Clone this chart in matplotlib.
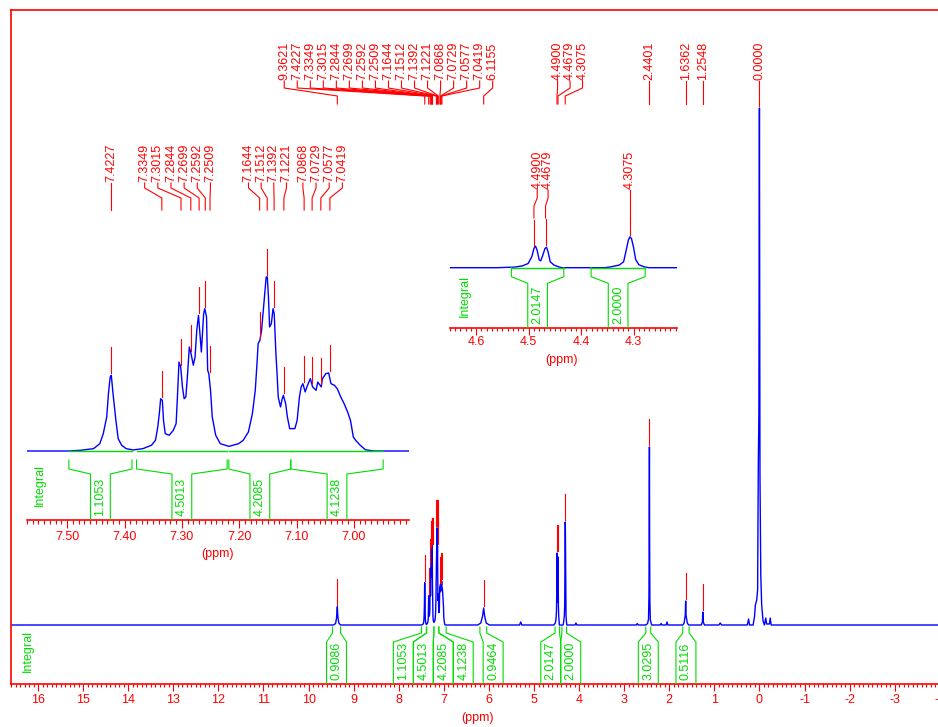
import numpy as np
import matplotlib.pyplot as plt

plt.rcParams['font.family'] = ['Liberation Sans', 'DejaVu Sans']
plt.rcParams['axes.unicode_minus'] = False

# ---- spectrum: ppm and height above baseline ----
# sharp lines over the whole range
lines_ppm = [16.60, 9.45, 9.40, 9.38, 9.362, 9.35, 9.33, 9.29, 7.60, 6.88,
             6.25, 6.18, 6.14, 6.116, 6.095, 6.06, 5.99, 5.32, 5.295, 5.27,
             4.60, 4.09, 4.07, 4.05, 2.73, 2.71, 2.69, 2.52, 2.48, 2.46,
             2.45, 2.445, 2.440, 2.436, 2.43, 2.42, 2.39, 2.20, 2.18, 2.16,
             2.07, 2.05, 2.03, 1.70, 1.67, 1.645, 1.636, 1.628, 1.60, 1.57,
             1.29, 1.265, 1.255, 1.245, 1.22, 0.90, 0.87, 0.84, 0.27, 0.24,
             0.22, 0.14, 0.11, 0.09, 0.06, 0.04, 0.025, 0.012, 0.0, -0.012,
             -0.03, -0.05, -0.08, -0.11, -0.14, -0.16, -0.22, -0.24, -0.26, -4.30]
lines_int = [0, 0, 1.5, 7, 18.3, 8, 2, 0, 0, 0,
             0, 2, 9, 17, 9, 2, 0, 0, 3, 0,
             0, 0, 2, 0, 0, 1.5, 0, 0, 1.5, 6,
             30, 90, 178, 90, 25, 5, 0, 0, 1.5, 0,
             0, 3, 0, 0, 2, 10, 24, 10, 2, 0,
             0, 3, 13, 3, 0, 0, 2, 0, 0, 6,
             0, 0, 8, 20, 25, 35, 160, 210, 517, 150,
             50, 20, 4, 0, 7, 1, 1, 7, 0, 0]

# aromatic multiplets
arom_ppm = [7.566, 7.497, 7.477, 7.454, 7.443, 7.437, 7.431, 7.428, 7.425, 7.423,
            7.420, 7.415, 7.411, 7.405, 7.397, 7.385, 7.368, 7.353, 7.346, 7.342,
            7.339, 7.337, 7.334, 7.332, 7.329, 7.322, 7.315, 7.310, 7.308, 7.305,
            7.302, 7.299, 7.296, 7.293, 7.290, 7.287, 7.284, 7.280, 7.277, 7.274,
            7.271, 7.268, 7.266, 7.262, 7.260, 7.257, 7.255, 7.253, 7.250, 7.247,
            7.241, 7.233, 7.218, 7.201, 7.193, 7.184, 7.177, 7.172, 7.169, 7.167,
            7.164, 7.161, 7.156, 7.153, 7.151, 7.149, 7.147, 7.144, 7.141, 7.139,
            7.136, 7.134, 7.132, 7.128, 7.125, 7.123, 7.119, 7.116, 7.112, 7.103,
            7.099, 7.095, 7.092, 7.089, 7.085, 7.082, 7.076, 7.072, 7.066, 7.063,
            7.057, 7.055, 7.049, 7.044, 7.040, 7.034, 7.029, 7.023, 7.017, 7.011,
            7.006, 7.001, 6.997, 6.989, 6.980, 6.966, 6.899]
arom_int = [0, 0, 0.4, 1.3, 4.1, 9.7, 19.0, 32.0, 41.3, 42.3,
            32.0, 17.1, 6.9, 3.2, 1.3, 0.6, 1.3, 3.2, 6.0, 13.4,
            21.8, 29.2, 28.3, 17.1, 9.7, 8.8, 11.5, 15.3, 28.3, 49.7,
            46.9, 35.8, 29.2, 30.2, 43.2, 58.1, 54.4, 47.9, 52.5, 67.4,
            75.8, 63.7, 55.3, 76.7, 79.5, 74.9, 45.1, 43.2, 33.9, 19.0,
            8.8, 4.1, 2.6, 4.1, 6.0, 10.6, 20.9, 33.9, 48.8, 60.0,
            61.8, 67.4, 86.0, 97.2, 97.2, 86.0, 69.3, 71.1, 79.5, 76.7,
            54.4, 43.2, 30.2, 24.6, 29.2, 31.1, 26.4, 19.0, 12.5, 12.5,
            17.1, 30.2, 35.8, 37.6, 33.0, 35.8, 40.4, 35.8, 33.9, 38.5,
            35.8, 40.4, 43.2, 43.6, 37.6, 36.7, 34.8, 30.2, 26.4, 21.8,
            17.1, 7.8, 6.0, 3.2, 0.7, 0, 0]

# signals near 4.3 - 4.5 ppm
ch2_ppm = [4.56, 4.527, 4.512, 4.501, 4.494, 4.490, 4.487, 4.484, 4.480, 4.477,
           4.473, 4.469, 4.466, 4.463, 4.459, 4.452, 4.443, 4.437, 4.355, 4.343,
           4.327, 4.319, 4.314, 4.310, 4.307, 4.304, 4.300, 4.296, 4.290, 4.280, 4.271]
ch2_int = [0, 2, 6, 14, 37, 64, 72, 59, 26, 23,
           42, 64, 68, 53, 20, 9, 3, 0, 0, 3,
           9, 20, 59, 92, 103, 97, 67, 27, 10, 3, 0]

# picked peaks
main_peaks = [9.3621, 7.4227, 7.3349, 7.3015, 7.2844, 7.2699, 7.2592, 7.2509,
              7.1644, 7.1512, 7.1392, 7.1221, 7.0868, 7.0729, 7.0577, 7.0419,
              6.1155, 4.4900, 4.4679, 4.3075, 2.4401, 1.6362, 1.2548, 0.0000]
arom_peaks = [7.4227, 7.3349, 7.3015, 7.2844, 7.2699, 7.2592, 7.2509, 7.1644,
              7.1512, 7.1392, 7.1221, 7.0868, 7.0729, 7.0577, 7.0419]
ch2_peaks = [4.4900, 4.4679, 4.3075]

# integrals
main_regions = [(9.47, 9.29), (7.497, 7.387), (7.379, 7.221), (7.218, 7.110),
                (7.110, 6.949), (6.20, 6.05), (4.533, 4.433), (4.381, 4.278),
                (2.52, 2.41), (1.70, 1.56)]
main_values = [0.9086, 1.1053, 4.5013, 4.2085, 4.1238, 0.9464, 2.0147, 2.0000,
               3.0295, 0.5116]
arom_regions = [(7.497, 7.387), (7.379, 7.221), (7.218, 7.110), (7.110, 6.949)]
arom_values = [1.1053, 4.5013, 4.2085, 4.1238]
ch2_regions = [(4.533, 4.433), (4.381, 4.278)]
ch2_values = [2.0147, 2.0000]

spec_ppm = np.array(lines_ppm + arom_ppm + ch2_ppm)
spec_int = np.array(lines_int + arom_int + ch2_int, dtype=float)
order = np.argsort(spec_ppm)[::-1]
spec_ppm, spec_int = spec_ppm[order], spec_int[order]

W, H = 938, 727
RED, BLUE, GREEN = '#ff0000', '#0000ff', '#00dd00'
FS = 9
fig = plt.figure(figsize=(W / 100, H / 100), dpi=100)


def panel(left, right, top, bottom, base, x0, p0, k, scale, face):
    ax = fig.add_axes([left / W, 1 - bottom / H, (right - left) / W, (bottom - top) / H])
    ax.set_facecolor(face)
    ax.set_xlim(p0 + (x0 - left) / k, p0 - (right - x0) / k)
    ax.set_ylim(base - bottom, base - top)
    ax.set_yticks([])
    ax.plot(spec_ppm, spec_int * scale, color=BLUE, lw=1.0, zorder=2)
    return dict(ax=ax, base=base, bottom=bottom, x0=x0, p0=p0, k=k, scale=scale)


def to_ppm(P, px):
    return P['p0'] - (px - P['x0']) / P['k']


def to_px(P, v):
    return P['x0'] + (P['p0'] - v) * P['k']


def style_axis(P, major, minor, fmt, pad, lmaj, lmin, spines):
    ax = P['ax']
    ax.set_xticks(major)
    ax.set_xticks(minor, minor=True)
    ax.set_xticklabels([fmt.format(v) for v in major])
    ax.tick_params(axis='x', which='both', direction='out', colors=RED,
                   width=0.8, labelsize=FS, pad=pad)
    ax.tick_params(axis='x', which='major', length=lmaj)
    ax.tick_params(axis='x', which='minor', length=lmin)
    for s in ax.spines:
        ax.spines[s].set_visible(s in spines)
        ax.spines[s].set_color(RED)
        ax.spines[s].set_linewidth(1.2)


def peak_labels(P, peaks, groups, ys, tol_px):
    ax = P['ax']
    yt, y1, y2, y3 = [P['base'] - y for y in ys]
    xp = [to_px(P, v) for v in peaks]
    xl = []
    for n, s, step in groups:
        for j in range(n):
            xl.append(xp[len(xl)] if s is None else s + j * step)
    for v, lx in zip(peaks, xl):
        ax.text(to_ppm(P, lx), yt + 1, f'{v:.4f}', rotation=90, ha='center',
                va='bottom', color=RED, fontsize=FS)
        ax.plot([to_ppm(P, lx)] * 2 + [v, v], [yt, y1, y2, y3], color=RED, lw=0.8)
        near = np.abs(spec_ppm - v) <= tol_px / P['k']
        h = np.interp(v, spec_ppm[::-1], spec_int[::-1])
        if near.any():
            h = max(h, spec_int[near].max())
        h *= P['scale']
        top = min(h + 28, y3)
        if top > h + 2:
            ax.plot([v, v], [h + 2, top], color=RED, lw=0.8)


def integrals(P, regions, values, depths, curve, bw=20):
    ax = P['ax']
    a, b, c = depths
    ybot = P['base'] - P['bottom']
    edges = [(to_px(P, p1), to_px(P, p2)) for p1, p2 in regions]
    want = [(l + r) / 2 for l, r in edges]
    groups = [[i] for i in range(len(want))]

    def start(g):
        return np.mean([want[i] for i in g]) - len(g) * bw / 2

    merged = True
    while merged:
        merged = False
        for j in range(len(groups) - 1):
            if start(groups[j + 1]) < start(groups[j]) + len(groups[j]) * bw:
                groups[j] += groups.pop(j + 1)
                merged = True
                break
    box_left = {}
    right_end = -np.inf
    for g in groups:
        s = max(start(g), right_end + 10)
        for n, i in enumerate(g):
            box_left[i] = s + n * bw
        right_end = s + len(g) * bw
    for i, ((l, r), val) in enumerate(zip(edges, values)):
        bl, br = box_left[i], box_left[i] + bw
        if curve:
            ax.plot([to_ppm(P, l), to_ppm(P, r)], [0, 0], color=GREEN, lw=1.0, zorder=3)
        for e, bx in ((l, bl), (r, br)):
            ax.plot([to_ppm(P, e)] * 2 + [to_ppm(P, bx)] * 2, [-a, -b, -c, ybot],
                    color=GREEN, lw=0.8, zorder=3)
        ax.text(to_ppm(P, (bl + br) / 2), ybot + 4, f'{val:.4f}', rotation=90,
                ha='center', va='bottom', color=GREEN, fontsize=FS)


# main spectrum
M = panel(11, 945, 10, 684, 625, 759, 0.0, 45.19, 1.0, 'white')
style_axis(M, np.arange(-4, 17), np.round(np.arange(-4.1, 16.6, 0.1), 1),
           '{:.0f}', 2.5, 5, 2.5, ['left', 'right', 'top', 'bottom'])
peak_labels(M, main_peaks, [(17, 282.7, 13.06), (3, 556.7, 12.5), (4, None, 0)],
            (81, 88, 96, 104), 1.0)
integrals(M, main_regions, main_values, (2, 8, 17), False)

# aromatic expansion
A = panel(27, 409, 130, 520, 451, 63.3, 7.50, 580, 1.79, 'none')
style_axis(A, np.round(np.arange(7.0, 7.51, 0.1), 2),
           np.round(np.arange(6.91, 7.57, 0.01), 2), '{:.2f}', 1.8, 5.8, 2.9, ['bottom'])
peak_labels(A, arom_peaks, [(1, None, 0), (6, 141.7, 13.3), (4, 246.7, 12.8),
                            (4, 301.7, 13.3)], (183, 188, 198, 210), 1.5)
integrals(A, arom_regions, arom_values, (9, 18, 23), True)

# 4.3 - 4.5 ppm expansion
C = panel(450, 677, 130, 328.3, 267.7, 473, 4.6, 533, 0.30, 'none')
style_axis(C, np.round(np.arange(4.3, 4.61, 0.1), 1),
           np.round(np.arange(4.22, 4.65, 0.01), 2), '{:.1f}', 0.8, 5, 2.5, ['bottom'])
peak_labels(C, ch2_peaks, [(2, 535, 11), (1, None, 0)], (190, 198, 206, 218), 1.5)
integrals(C, ch2_regions, ch2_values, (0, 9, 15.6), True)

for x, y in ((28, 651), (40, 485), (465, 296)):
    fig.text(x / W, 1 - y / H, 'Integral', rotation=90, ha='center', va='center',
             color=GREEN, fontsize=FS)
for x, y in ((477, 718), (217.5, 554), (561.7, 360)):
    fig.text(x / W, 1 - y / H, '(ppm)', ha='center', va='center', color=RED, fontsize=FS)

fig.savefig('out.png', dpi=100)
